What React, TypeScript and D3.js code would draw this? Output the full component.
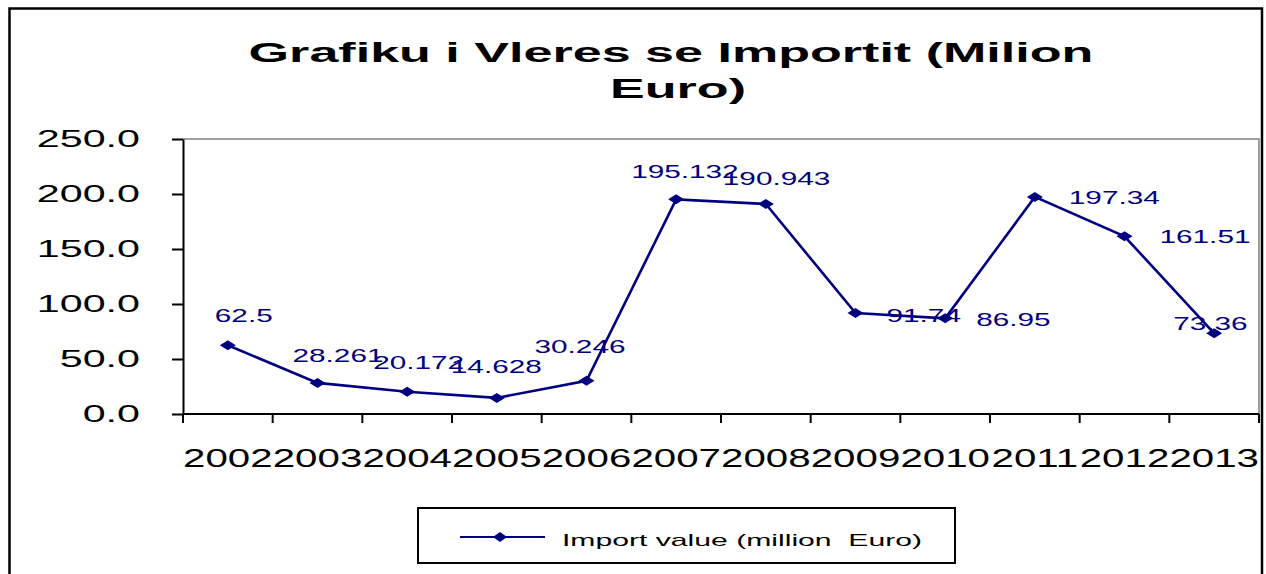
import React, { useRef, useEffect } from "react";
import * as d3 from "d3";

// chart data
const years = ["2002", "2003", "2004", "2005", "2006", "2007", "2008", "2009", "2010", "2011", "2012", "2013"];
const importValues = [62.5, 28.261, 20.172, 14.628, 30.246, 195.132, 190.943, 91.74, 86.95, 197.34, 161.51, 73.36];
const valueLabels = ["62.5", "28.261", "20.172", "14.628", "30.246", "195.132", "190.943", "91.74", "86.95", "197.34", "161.51", "73.36"];
const yTicks = [0, 50, 100, 150, 200, 250];
const titleLines = ["Grafiku i Vleres se Importit (Milion", "Euro)"];
const seriesName = "Import value (million  Euro)";

// where each data label sits relative to its point (left edge, baseline)
const labelOffsets: [number, number][] = [
  [-13, -23], [-25, -21], [-34, -23], [-46, -25], [-52, -28], [-45, -21],
  [-43, -19], [31, 9], [31, 8], [34, 7], [35, 7], [-41, -3],
];

const FONT = "'Liberation Sans', Arial, Helvetica, sans-serif";
const NAVY = "#000080";

function App() {
  const svgRef = useRef<SVGSVGElement>(null);

  useEffect(() => {
    const svg = d3.select(svgRef.current);
    svg.selectAll("*").remove();

    const left = 183, right = 1259, top = 139, bottom = 414;

    const x = d3.scaleBand<string>().domain(years).range([left, right]).padding(0);
    const y = d3.scaleLinear().domain([0, 250]).range([bottom, top]);
    const cx = (d: string) => (x(d) as number) + x.bandwidth() / 2;

    // outer frame
    svg.append("rect")
      .attr("x", 9.5).attr("y", 8.5)
      .attr("width", 1252.5).attr("height", 640)
      .attr("fill", "white").attr("stroke", "black").attr("stroke-width", 2.5);

    // title
    const title = svg.append("g").attr("font-family", FONT).attr("font-weight", "bold")
      .attr("font-size", 28).attr("text-anchor", "middle");
    title.append("text").attr("transform", "translate(671,62) scale(1.86,1)").text(titleLines[0]);
    title.append("text").attr("transform", "translate(678,98) scale(1.86,1)").text(titleLines[1]);

    // plot area border (top and right)
    svg.append("path")
      .attr("d", `M${left},${top}H${right}V${bottom}`)
      .attr("fill", "none").attr("stroke", "#808080").attr("stroke-width", 1.5);

    // y axis
    const yAxis = d3.axisLeft(y).tickValues(yTicks).tickSize(11).tickSizeOuter(0)
      .tickFormat((d) => (+d).toFixed(1));
    const gy = svg.append("g").attr("transform", `translate(${left},0)`).call(yAxis);
    gy.select(".domain").attr("stroke", "black").attr("stroke-width", 2);
    gy.selectAll(".tick line").attr("stroke", "black").attr("stroke-width", 2);
    gy.selectAll(".tick text")
      .attr("x", null)
      .attr("transform", "translate(-43,0) scale(1.77,1)")
      .attr("font-family", FONT).attr("font-size", 23.3).attr("fill", "black");

    // x axis with ticks between categories
    const gx = svg.append("g");
    gx.append("line").attr("x1", left).attr("x2", right).attr("y1", bottom).attr("y2", bottom)
      .attr("stroke", "black").attr("stroke-width", 2);
    const edges = years.map((d) => x(d) as number).concat([right]);
    gx.selectAll("line.tick").data(edges).enter().append("line").attr("class", "tick")
      .attr("x1", (d) => d).attr("x2", (d) => d)
      .attr("y1", bottom).attr("y2", bottom + 9)
      .attr("stroke", "black").attr("stroke-width", 2);
    gx.selectAll("text").data(years).enter().append("text")
      .attr("transform", (d) => `translate(${cx(d)},467) scale(1.52,1)`)
      .attr("text-anchor", "middle")
      .attr("font-family", FONT).attr("font-size", 26.5).attr("fill", "black")
      .text((d) => d);

    // series line
    const points = years.map((d, i) => [cx(d), y(importValues[i])] as [number, number]);
    svg.append("path")
      .attr("d", d3.line()(points))
      .attr("fill", "none").attr("stroke", NAVY).attr("stroke-width", 2.6);

    const diamond = "M0,-5L8,0L0,5L-8,0Z";
    svg.selectAll("path.marker").data(points).enter().append("path").attr("class", "marker")
      .attr("d", diamond)
      .attr("transform", (d) => `translate(${d[0]},${d[1]})`)
      .attr("fill", NAVY);

    // data labels
    svg.selectAll("text.value").data(points).enter().append("text").attr("class", "value")
      .attr("transform", (d, i) =>
        `translate(${d[0] + labelOffsets[i][0]},${d[1] + labelOffsets[i][1]}) scale(1.6,1)`)
      .attr("font-family", FONT).attr("font-size", 18.6).attr("fill", NAVY)
      .text((d, i) => valueLabels[i]);

    // legend
    const lg = svg.append("g");
    lg.append("rect").attr("x", 418).attr("y", 508).attr("width", 537).attr("height", 55)
      .attr("fill", "white").attr("stroke", "black").attr("stroke-width", 2);
    lg.append("line").attr("x1", 460).attr("x2", 545).attr("y1", 537).attr("y2", 537)
      .attr("stroke", NAVY).attr("stroke-width", 2);
    lg.append("path").attr("d", "M0,-5L7,0L0,5L-7,0Z").attr("transform", "translate(500,537)").attr("fill", NAVY);
    lg.append("text")
      .attr("transform", "translate(562,546) scale(1.85,1)")
      .attr("font-family", FONT).attr("font-size", 16.3).attr("fill", "black")
      .style("white-space", "pre")
      .text(seriesName);
  }, []);

  return (
    <svg
      ref={svgRef}
      width={1266}
      height={574}
      style={{ position: "absolute", left: 0, top: 0, background: "white" }}
    />
  );
}

export default App;
